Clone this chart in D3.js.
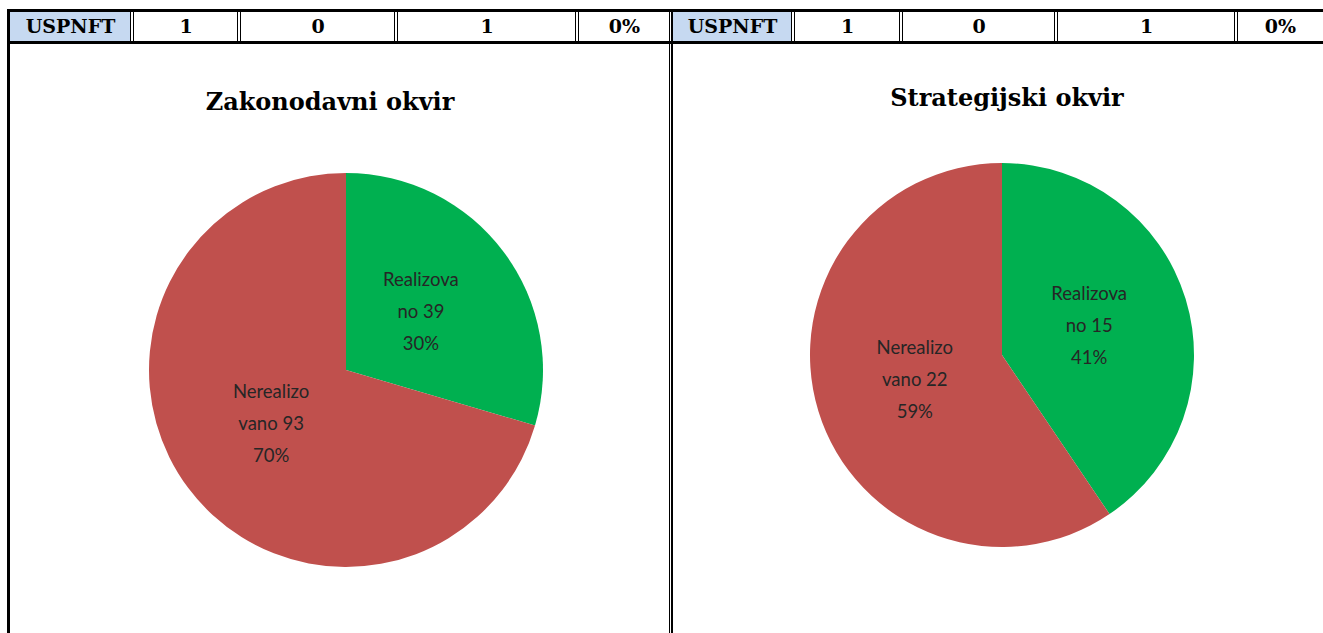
<!DOCTYPE html>
<html>
<head>
<meta charset="utf-8">
<script src="https://cdn.jsdelivr.net/npm/d3@7"></script>
<style>
  body { margin: 0; background: #fff; }
  svg { display: block; }
</style>
</head>
<body>
<div id="chart"></div>
<script>
var width = 1323, height = 633;

// header rows above each chart
var headerCells = ["USPNFT", "1", "0", "1", "0%"];

// pie data
var titles = ["Zakonodavni okvir", "Strategijski okvir"];
var categories = ["Realizovano", "Nerealizovano"];
var labelLines = [["Realizova", "no"], ["Nerealizo", "vano"]];
var valuesZakon = [39, 93];
var valuesStrateg = [15, 22];
var colors = ["#00b050", "#c0504d"];

var svg = d3.select("#chart").append("svg")
    .attr("width", width)
    .attr("height", height);

// column edges of each header table (left panel, right panel)
var panels = [
  {edges: [10, 131, 238, 395, 576, 670], values: valuesZakon, cx: 346, cy: 370, r: 197, titleX: 330, titleY: 110},
  {edges: [673, 792, 900, 1055, 1235, 1323], values: valuesStrateg, cx: 1002, cy: 355, r: 192, titleX: 1007, titleY: 106}
];

var headTop = 12, headBottom = 41;

panels.forEach(function(p, pi) {
  var g = svg.append("g");

  // blue first cell
  g.append("rect")
    .attr("x", p.edges[0]).attr("y", headTop)
    .attr("width", p.edges[1] - p.edges[0])
    .attr("height", headBottom - headTop)
    .attr("fill", "#c6d9f1");

  // double lines between cells
  p.edges.slice(1, 5).forEach(function(e) {
    [e - 0.5, e + 2.5].forEach(function(x) {
      g.append("line")
        .attr("x1", x).attr("x2", x)
        .attr("y1", headTop).attr("y2", headBottom)
        .attr("stroke", "#000").attr("stroke-width", 1);
    });
  });

  g.selectAll("text.cell")
    .data(headerCells)
    .enter().append("text")
      .attr("class", "cell")
      .attr("x", function(d, i) {
        var l = i == 0 ? p.edges[0] : p.edges[i] + 3;
        return (l + p.edges[i + 1]) / 2;
      })
      .attr("y", 33)
      .attr("text-anchor", "middle")
      .style("font-family", "'DejaVu Serif', serif")
      .style("font-weight", "bold")
      .style("font-size", "19px")
      .attr("fill", "#000")
      .text(function(d) { return d; });

  // title
  g.append("text")
    .attr("x", p.titleX).attr("y", p.titleY)
    .attr("text-anchor", "middle")
    .style("font-family", "'DejaVu Serif', serif")
    .style("font-weight", "bold")
    .style("font-size", "24px")
    .attr("fill", "#000")
    .text(titles[pi]);

  // pie
  var pie = d3.pie().sort(null).value(function(d) { return d; });
  var arc = d3.arc().innerRadius(0).outerRadius(p.r);
  var labelArc = d3.arc().innerRadius(p.r * 0.95).outerRadius(0);
  var total = d3.sum(p.values);
  var arcs = pie(p.values);

  var pg = g.append("g").attr("transform", "translate(" + p.cx + "," + p.cy + ")");

  pg.selectAll("path")
    .data(arcs)
    .enter().append("path")
      .attr("d", arc)
      .attr("fill", function(d, i) { return colors[i]; });

  var lbl = pg.selectAll("text.lbl")
    .data(arcs)
    .enter().append("text")
      .attr("class", "lbl")
      .attr("transform", function(d) { return "translate(" + labelArc.centroid(d) + ")"; })
      .attr("text-anchor", "middle")
      .style("font-family", "Lato, 'Open Sans', sans-serif")
      .style("font-size", "18.5px")
      .attr("fill", "#262626");

  lbl.each(function(d, i) {
    var lines = [labelLines[i][0], labelLines[i][1] + " " + d.value, Math.round(d.value / total * 100) + "%"];
    d3.select(this).selectAll("tspan")
      .data(lines)
      .enter().append("tspan")
        .attr("x", 0)
        .attr("y", function(t, j) { return (j - 1) * 32 + 4; })
        .text(function(t) { return t; });
  });
});

// heavy borders of the header rows
svg.append("line")
  .attr("x1", 7).attr("x2", width).attr("y1", 10.5).attr("y2", 10.5)
  .attr("stroke", "#000").attr("stroke-width", 3);
svg.append("line")
  .attr("x1", 7).attr("x2", width).attr("y1", 42.5).attr("y2", 42.5)
  .attr("stroke", "#000").attr("stroke-width", 3);

// left frame line
svg.append("line")
  .attr("x1", 8.5).attr("x2", 8.5).attr("y1", 9).attr("y2", height)
  .attr("stroke", "#000").attr("stroke-width", 3);

// double line between the two panels
svg.append("line")
  .attr("x1", 669.5).attr("x2", 669.5).attr("y1", 9).attr("y2", height)
  .attr("stroke", "#000").attr("stroke-width", 1);
svg.append("line")
  .attr("x1", 672).attr("x2", 672).attr("y1", 9).attr("y2", height)
  .attr("stroke", "#000").attr("stroke-width", 2);
</script>
</body>
</html>
